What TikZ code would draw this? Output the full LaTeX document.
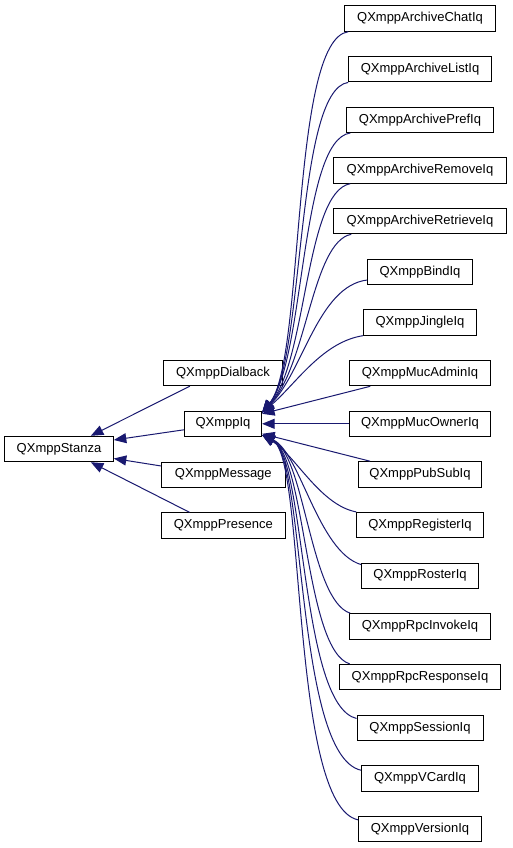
\documentclass[tikz,border=0pt]{standalone}
\usepackage{fontspec}
\setmainfont{Liberation Sans}
\usetikzlibrary{arrows.meta}
\definecolor{edgeblue}{HTML}{191970}
\begin{document}
\begin{tikzpicture}[x=1pt,y=-1pt,
  cls/.style={draw=black, line width=0.9pt, fill=white, minimum height=25.5pt, inner sep=0pt, font=\fontsize{13}{15}\selectfont},
  inh/.style={draw=edgeblue, line width=1pt, -{Triangle[length=12.5pt,width=10pt]}}]
\useasboundingbox[fill=white] (0,0) rectangle (512,848);
% left and middle
\node[cls, minimum width=108.7pt] (stanza) at (59,449) {QXmppStanza};
\node[cls, minimum width=119.3pt] (dial) at (223,373) {QXmppDialback};
\node[cls, minimum width=77.3pt] (iq) at (223,423.8) {QXmppIq};
\node[cls, minimum width=123.3pt] (msg) at (223.3,474.7) {QXmppMessage};
\node[cls, minimum width=124.7pt] (pres) at (223.3,525.5) {QXmppPresence};
% right column
\node[cls, minimum width=150.7pt] (chat) at (420,18.5) {QXmppArchiveChatIq};
\node[cls, minimum width=142.7pt] (list) at (420,69.2) {QXmppArchiveListIq};
\node[cls, minimum width=146.7pt] (pref) at (420,119.8) {QXmppArchivePrefIq};
\node[cls, minimum width=172.7pt] (remove) at (420,170.5) {QXmppArchiveRemoveIq};
\node[cls, minimum width=172.7pt] (retrieve) at (420,221.1) {QXmppArchiveRetrieveIq};
\node[cls, minimum width=104.7pt] (bind) at (420,271.8) {QXmppBindIq};
\node[cls, minimum width=113.3pt] (jingle) at (420,322.5) {QXmppJingleIq};
\node[cls, minimum width=140.7pt] (mucadmin) at (420,373.1) {QXmppMucAdminIq};
\node[cls, minimum width=141.7pt] (mucowner) at (420,423.8) {QXmppMucOwnerIq};
\node[cls, minimum width=123pt] (pubsub) at (420,474.4) {QXmppPubSubIq};
\node[cls, minimum width=126.7pt] (register) at (420,525.1) {QXmppRegisterIq};
\node[cls, minimum width=116.7pt] (roster) at (420,575.8) {QXmppRosterIq};
\node[cls, minimum width=140.7pt] (rpcinvoke) at (420,626.4) {QXmppRpcInvokeIq};
\node[cls, minimum width=161.7pt] (rpcresponse) at (420,677.1) {QXmppRpcResponseIq};
\node[cls, minimum width=126pt] (session) at (420,727.7) {QXmppSessionIq};
\node[cls, minimum width=117.3pt] (vcard) at (420,778.4) {QXmppVCardIq};
\node[cls, minimum width=123.3pt] (version) at (420,829) {QXmppVersionIq};
% edges to Stanza
\draw[inh] ([xshift=27pt]dial.south west) -- ([xshift=-23pt]stanza.north east);
\draw[inh] ([yshift=-6pt]iq.west) -- ([yshift=9pt]stanza.east);
\draw[inh] ([yshift=8.7pt]msg.west) -- ([yshift=-9.5pt]stanza.east);
\draw[inh] ([xshift=29pt]pres.north west) -- ([xshift=-23pt]stanza.south east);
% edges to Iq (upper)
\draw[inh] ([xshift=4pt]chat.south west) .. controls (290,40) and (305,360) .. ([yshift=-2pt]iq.north east);
\draw[inh] (list.south west) .. controls (295,90) and (305,360) .. ([yshift=-2pt]iq.north east);
\draw[inh] ([xshift=4pt]pref.south west) .. controls (300,140) and (305,360) .. ([yshift=-2pt]iq.north east);
\draw[inh] ([xshift=17pt]remove.south west) .. controls (305,192) and (307,362) .. ([yshift=-2pt]iq.north east);
\draw[inh] ([xshift=18pt]retrieve.south west) .. controls (312,242) and (307,365) .. ([yshift=-2pt]iq.north east);
\draw[inh] ([yshift=5pt]bind.south west) .. controls (318,286) and (303,372) .. ([yshift=-2pt]iq.north east);
\draw[inh] (jingle.south west) .. controls (322,342) and (295,385) .. ([yshift=-2pt]iq.north east);
\draw[inh] ([xshift=21pt]mucadmin.south west) -- ([yshift=10pt]iq.east);
\draw[inh] (mucowner.west) -- (iq.east);
\draw[inh] ([xshift=12pt]pubsub.north west) -- ([yshift=-10pt]iq.east);
% edges to Iq (lower)
\draw[inh] (register.north west) .. controls (320,505) and (295,455) .. ([yshift=2pt]iq.south east);
\draw[inh] ([yshift=-2pt]roster.north west) .. controls (318,552) and (300,452) .. ([yshift=2pt]iq.south east);
\draw[inh] ([xshift=1pt]rpcinvoke.north west) .. controls (310,600) and (305,455) .. ([yshift=2pt]iq.south east);
\draw[inh] ([xshift=11pt]rpcresponse.north west) .. controls (305,650) and (306,458) .. ([yshift=2pt]iq.south east);
\draw[inh] ([yshift=-4pt]session.north west) .. controls (300,705) and (306,458) .. ([yshift=2pt]iq.south east);
\draw[inh] ([yshift=-5pt]vcard.north west) .. controls (295,755) and (306,458) .. ([yshift=2pt]iq.south east);
\draw[inh] ([yshift=-4pt]version.north west) .. controls (290,805) and (306,458) .. ([yshift=2pt]iq.south east);
\end{tikzpicture}
\end{document}
